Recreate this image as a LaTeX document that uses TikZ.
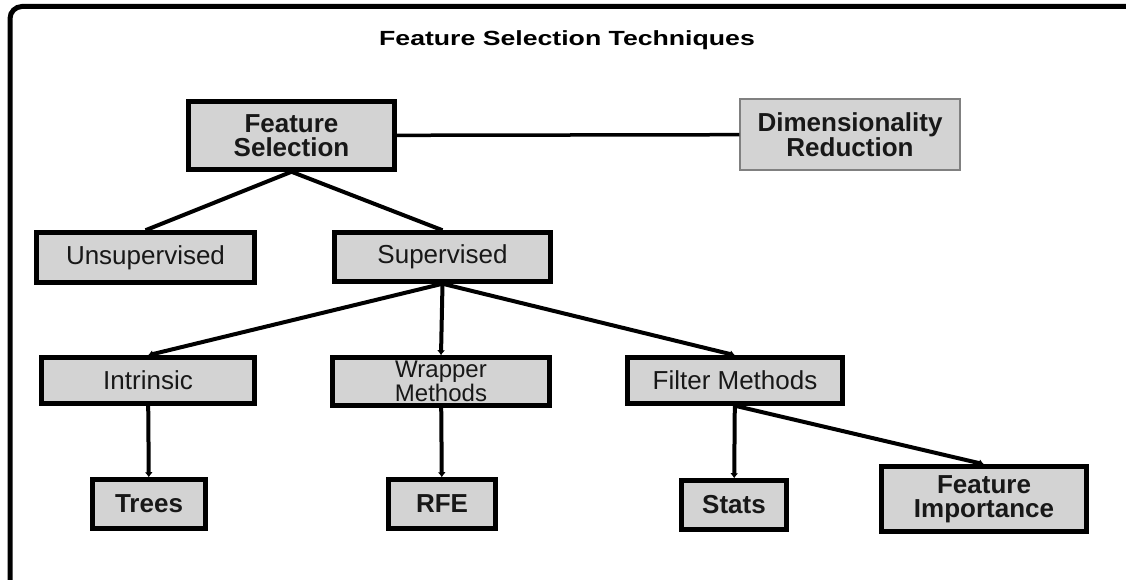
\documentclass[tikz,border=0pt]{standalone}
\usepackage{graphicx}
\usepackage{fontspec}
\setmainfont{Liberation Sans}
\usetikzlibrary{arrows.meta}
\definecolor{boxfill}{RGB}{211,211,211}
\definecolor{dimline}{RGB}{128,128,128}
\definecolor{inktext}{RGB}{24,24,24}
\newcommand{\boxfont}{\fontsize{26}{24}\selectfont}
\newcommand{\titlefont}{\fontsize{20.5}{20}\selectfont\bfseries}

\begin{document}
\begin{tikzpicture}[x=1pt, y=-1pt,
	box/.style={draw=black, fill=boxfill, line width=4.5pt, text=inktext, align=center, inner sep=0pt, font=\boxfont},
	bbox/.style={box, font=\boxfont\bfseries},
	link/.style={line width=4pt},
	arr/.style={line width=4pt, -{Latex[length=5pt,width=8pt]}}]
	\useasboundingbox (0,0) rectangle (1126,580);
	\fill[white] (0,0) rectangle (1126,580);
	\draw[line width=5pt, rounded corners=12pt] (10,600) -- (10,6.5) -- (1150,6.5);

	\node (title) at (567,40) {\titlefont\scalebox{1.3}[1]{Feature Selection Techniques}};

	\node[bbox, minimum width=206, minimum height=68] (fs) at (291.5,135.5) {Feature\\Selection};
	\node[bbox, draw=dimline, line width=1.5pt, minimum width=220, minimum height=71] (dim) at (850,134.5) {Dimensionality\\Reduction};
	\node[box, minimum width=218, minimum height=50] (unsup) at (145.5,257.5) {Unsupervised};
	\node[box, minimum width=216, minimum height=49] (sup) at (442.5,257) {Supervised};
	\node[box, minimum width=213, minimum height=46] (intr) at (148,380.5) {Intrinsic};
	\node[box, font=\fontsize{24}{21}\selectfont, minimum width=217, minimum height=48] (wrap) at (441,381.5) {Wrapper\\Methods};
	\node[box, minimum width=215, minimum height=46] (filt) at (735,380.5) {Filter Methods};
	\node[bbox, minimum width=113, minimum height=49] (trees) at (149,504) {Trees};
	\node[bbox, minimum width=107, minimum height=49] (rfe) at (442,504) {RFE};
	\node[bbox, minimum width=105, minimum height=49] (stats) at (734,505) {Stats};
	\node[bbox, minimum width=205, minimum height=65] (fi) at (984,499) {Feature\\Importance};

	\path[link]
	(fs) edge[line width=3.5pt] (dim)
	(fs.south) edge (unsup.north)
	           edge (sup.north);
	\path[arr]
	(sup.south) edge (intr.north)
	            edge (wrap.north)
	            edge (filt.north)
	(intr) edge (trees)
	(wrap) edge (rfe)
	(filt) edge (stats)
	(filt.south) edge (fi.north);
\end{tikzpicture}
\end{document}
